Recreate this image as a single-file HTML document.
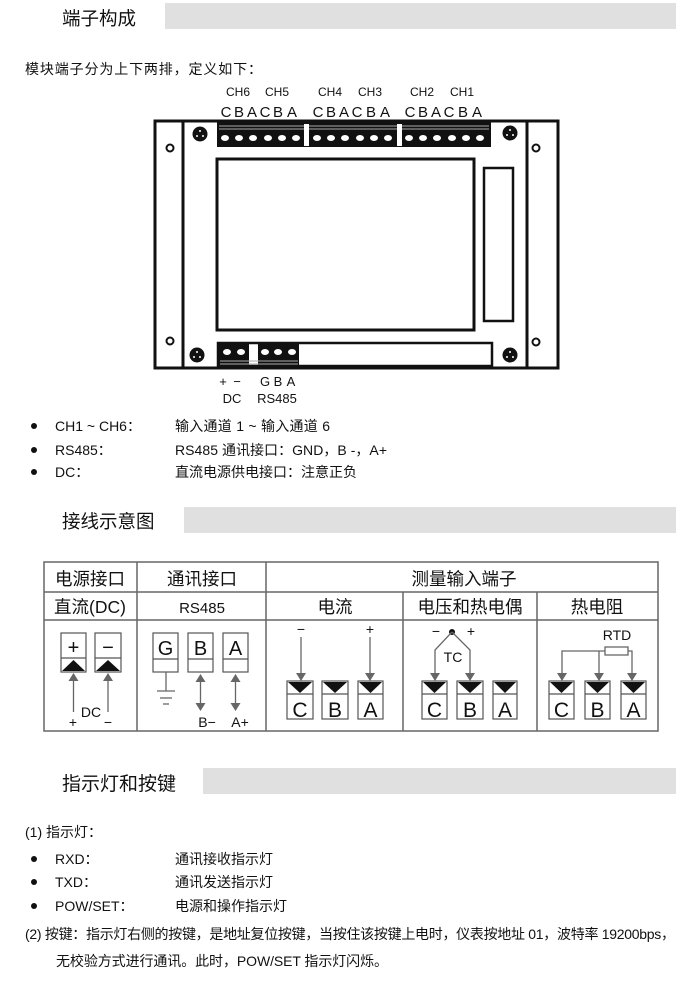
<!DOCTYPE html>
<html><head><meta charset="utf-8"><style>
html,body{margin:0;padding:0;background:#fff;}
svg{display:block;}
text{font-family:"Liberation Sans","Noto Sans CJK SC",sans-serif;fill:#111;}
</style></head><body>
<svg width="700" height="1003" viewBox="0 0 700 1003" xmlns="http://www.w3.org/2000/svg">
<defs>
<marker id="ah" markerWidth="8" markerHeight="10" refX="7" refY="5" orient="auto" markerUnits="userSpaceOnUse"><path d="M0,0 L8,5 L0,10 z" fill="#666"/></marker>
<marker id="as" markerWidth="8" markerHeight="10" refX="1" refY="5" orient="auto" markerUnits="userSpaceOnUse"><path d="M8,0 L0,5 L8,10 z" fill="#666"/></marker>
</defs>

<text x="62" y="25" font-size="18.5">端子构成</text>
<rect x="165" y="3" width="511" height="26" fill="#e0e0e0"/>
<text x="25" y="74" font-size="14" textLength="237">模块端子分为上下两排，定义如下：</text>

<g font-size="12" text-anchor="middle">
<text x="238" y="96">CH6</text><text x="277" y="96">CH5</text><text x="330" y="96">CH4</text><text x="370" y="96">CH3</text><text x="422" y="96">CH2</text><text x="462" y="96">CH1</text>
</g>
<g font-size="15" text-anchor="middle">
<text x="226" y="117">C</text><text x="239" y="117">B</text><text x="252" y="117">A</text><text x="265" y="117">C</text><text x="278" y="117">B</text><text x="292" y="117">A</text>
<text x="318" y="117">C</text><text x="331" y="117">B</text><text x="344" y="117">A</text><text x="357" y="117">C</text><text x="371" y="117">B</text><text x="385" y="117">A</text>
<text x="410" y="117">C</text><text x="423" y="117">B</text><text x="436" y="117">A</text><text x="449" y="117">C</text><text x="463" y="117">B</text><text x="477" y="117">A</text>
</g>

<g fill="none" stroke="#111" stroke-width="3">
<rect x="155" y="121" width="403" height="247"/>
<line x1="183" y1="121" x2="183" y2="368"/>
<line x1="527" y1="121" x2="527" y2="368"/>
<rect x="217" y="159" width="257" height="171"/>
<rect x="484" y="168" width="29" height="153" stroke-width="2.5"/>
<rect x="218" y="343" width="274" height="23" stroke-width="2.5"/>
</g>
<g fill="none" stroke="#111" stroke-width="2">
<circle cx="170" cy="148" r="3.5"/><circle cx="170" cy="341" r="3.5"/>
<circle cx="536" cy="148" r="3.5"/><circle cx="536" cy="342" r="3.5"/>
</g>
<g>
<circle cx="200" cy="134" r="7.5" fill="#111"/><circle cx="510" cy="133" r="7.5" fill="#111"/>
<circle cx="197" cy="355" r="7.5" fill="#111"/><circle cx="510" cy="355" r="7.5" fill="#111"/>
<g fill="#fff"><circle cx="200" cy="131" r="1"/><circle cx="197" cy="136" r="1"/><circle cx="203" cy="136" r="1"/>
<circle cx="510" cy="130" r="1"/><circle cx="507" cy="135" r="1"/><circle cx="513" cy="135" r="1"/>
<circle cx="197" cy="352" r="1"/><circle cx="194" cy="357" r="1"/><circle cx="200" cy="357" r="1"/>
<circle cx="510" cy="352" r="1"/><circle cx="507" cy="357" r="1"/><circle cx="513" cy="357" r="1"/></g>
</g>
<rect x="217" y="122" width="274" height="25" fill="#111"/>
<g stroke="#aaa" stroke-width="1">
<line x1="219" y1="126" x2="489" y2="126"/><line x1="219" y1="129" x2="489" y2="129"/>
</g>
<rect x="304" y="124" width="5" height="22" fill="#fff"/>
<rect x="397" y="124" width="5" height="22" fill="#fff"/>
<g fill="#fff">
<ellipse cx="225" cy="138" rx="4" ry="3"/><ellipse cx="239" cy="138" rx="4" ry="3"/><ellipse cx="253" cy="138" rx="4" ry="3"/><ellipse cx="268" cy="138" rx="4" ry="3"/><ellipse cx="282" cy="138" rx="4" ry="3"/><ellipse cx="296" cy="138" rx="4" ry="3"/>
<ellipse cx="317" cy="138" rx="4" ry="3"/><ellipse cx="331" cy="138" rx="4" ry="3"/><ellipse cx="345" cy="138" rx="4" ry="3"/><ellipse cx="360" cy="138" rx="4" ry="3"/><ellipse cx="374" cy="138" rx="4" ry="3"/><ellipse cx="388" cy="138" rx="4" ry="3"/>
<ellipse cx="409" cy="138" rx="4" ry="3"/><ellipse cx="423" cy="138" rx="4" ry="3"/><ellipse cx="437" cy="138" rx="4" ry="3"/><ellipse cx="452" cy="138" rx="4" ry="3"/><ellipse cx="466" cy="138" rx="4" ry="3"/><ellipse cx="480" cy="138" rx="4" ry="3"/>
</g>
<rect x="219" y="344" width="30" height="22" fill="#111"/>
<rect x="258" y="344" width="41" height="22" fill="#111"/>
<g stroke="#aaa"><line x1="220" y1="361" x2="298" y2="361"/><line x1="220" y1="364" x2="298" y2="364"/></g>
<g fill="#fff">
<ellipse cx="227" cy="352" rx="4" ry="3"/><ellipse cx="241" cy="352" rx="4" ry="3"/>
<ellipse cx="265" cy="352" rx="4" ry="3"/><ellipse cx="278" cy="352" rx="4" ry="3"/><ellipse cx="292" cy="352" rx="4" ry="3"/>
</g>
<g font-size="13" text-anchor="middle">
<text x="223" y="386">+</text><text x="237" y="386">−</text>
<text x="265" y="386">G</text><text x="278" y="386">B</text><text x="291" y="386">A</text>
<text x="232" y="403">DC</text><text x="277" y="403">RS485</text>
</g>

<g font-size="14">
<circle cx="34" cy="426" r="3" fill="#111"/><text x="55" y="431">CH1 ~ CH6：</text><text x="175" y="431" textLength="155">输入通道 1 ~ 输入通道 6</text>
<circle cx="34" cy="450" r="3" fill="#111"/><text x="55" y="455">RS485：</text><text x="175" y="455" textLength="212">RS485 通讯接口：GND，B -，A+</text>
<circle cx="34" cy="472" r="3" fill="#111"/><text x="55" y="477">DC：</text><text x="175" y="477" textLength="182">直流电源供电接口：注意正负</text>
</g>

<text x="62" y="528" font-size="18.5">接线示意图</text>
<rect x="184" y="507" width="492" height="26" fill="#e0e0e0"/>

<g fill="none" stroke="#666" stroke-width="1.5">
<rect x="44" y="562" width="614" height="169"/>
<line x1="44" y1="592" x2="658" y2="592"/>
<line x1="44" y1="620" x2="658" y2="620"/>
<line x1="137" y1="562" x2="137" y2="731"/>
<line x1="266" y1="562" x2="266" y2="731"/>
<line x1="403" y1="592" x2="403" y2="731"/>
<line x1="537" y1="592" x2="537" y2="731"/>
</g>
<g font-size="17.5" text-anchor="middle">
<text x="90" y="585">电源接口</text><text x="202" y="585">通讯接口</text><text x="464" y="585">测量输入端子</text>
<text x="90" y="613">直流(DC)</text><text x="202" y="613" font-size="15">RS485</text><text x="335" y="613">电流</text><text x="470" y="613">电压和热电偶</text><text x="597" y="613">热电阻</text>
</g>

<g fill="#fff" stroke="#555" stroke-width="1.2">
<rect x="61" y="633" width="25" height="39"/><line x1="61" y1="658" x2="86" y2="658"/>
<rect x="95" y="633" width="26" height="39"/><line x1="95" y1="658" x2="121" y2="658"/>
</g>
<path d="M62,671 L73.5,660 L85,671 z" fill="#111"/>
<path d="M96,671 L108,660 L120,671 z" fill="#111"/>
<g font-size="20" text-anchor="middle"><text x="73.5" y="654">+</text><text x="108" y="654">−</text></g>
<g stroke="#666" stroke-width="1.3">
<line x1="73.5" y1="712" x2="73.5" y2="674" marker-end="url(#ah)"/>
<line x1="108" y1="712" x2="108" y2="674" marker-end="url(#ah)"/>
</g>
<g font-size="14" text-anchor="middle"><text x="73" y="727">+</text><text x="91" y="717">DC</text><text x="108" y="727">−</text></g>

<g fill="#fff" stroke="#555" stroke-width="1.2">
<rect x="153" y="633" width="25" height="39"/><line x1="153" y1="659" x2="178" y2="659"/>
<rect x="188" y="633" width="25" height="39"/><line x1="188" y1="659" x2="213" y2="659"/>
<rect x="223" y="633" width="25" height="39"/><line x1="223" y1="659" x2="248" y2="659"/>
</g>
<g font-size="20" text-anchor="middle"><text x="165.5" y="655">G</text><text x="200.5" y="655">B</text><text x="235.5" y="655">A</text></g>
<g stroke="#666" stroke-width="1.3">
<line x1="166" y1="672" x2="166" y2="691"/>
<line x1="157" y1="691" x2="175" y2="691"/>
<line x1="160" y1="698" x2="172" y2="698"/>
<line x1="163" y1="704" x2="169" y2="704"/>
<line x1="200.5" y1="675" x2="200.5" y2="710" marker-start="url(#as)" marker-end="url(#ah)"/>
<line x1="235.5" y1="675" x2="235.5" y2="710" marker-start="url(#as)" marker-end="url(#ah)"/>
</g>
<g font-size="14" text-anchor="middle"><text x="207" y="727">B−</text><text x="240" y="727">A+</text></g>

<g font-size="14" text-anchor="middle"><text x="301" y="634">−</text><text x="370" y="634">+</text></g>
<g stroke="#666" stroke-width="1.3">
<line x1="301" y1="637" x2="301" y2="680" marker-end="url(#ah)"/>
<line x1="370" y1="637" x2="370" y2="680" marker-end="url(#ah)"/>
</g>

<g font-size="14" text-anchor="middle"><text x="436" y="636">−</text><text x="471" y="636">+</text><text x="453" y="662">TC</text><text x="617" y="640">RTD</text></g>
<circle cx="452" cy="632" r="3" fill="#111"/>
<g fill="none" stroke="#666" stroke-width="1.3">
<polyline points="452,632 435,650 435,680" marker-end="url(#ah)"/>
<polyline points="452,632 470,650 470,680" marker-end="url(#ah)"/>
</g>

<g fill="none" stroke="#666" stroke-width="1.3">
<rect x="605" y="647" width="23" height="8" fill="#fff"/>
<polyline points="605,651 562,651 562,680" marker-end="url(#ah)"/>
<polyline points="628,651 632,651 632,680" marker-end="url(#ah)"/>
<line x1="599" y1="651" x2="599" y2="680" marker-end="url(#ah)"/>
</g>

<g fill="#fff" stroke="#555" stroke-width="1.2">
<rect x="287" y="681" width="26" height="38"/><line x1="287" y1="694" x2="313" y2="694"/>
<rect x="322" y="681" width="26" height="38"/><line x1="322" y1="694" x2="348" y2="694"/>
<rect x="358" y="681" width="25" height="38"/><line x1="358" y1="694" x2="383" y2="694"/>
<rect x="422" y="681" width="25" height="38"/><line x1="422" y1="694" x2="447" y2="694"/>
<rect x="457" y="681" width="26" height="38"/><line x1="457" y1="694" x2="483" y2="694"/>
<rect x="493" y="681" width="24" height="38"/><line x1="493" y1="694" x2="517" y2="694"/>
<rect x="549" y="681" width="25" height="38"/><line x1="549" y1="694" x2="574" y2="694"/>
<rect x="585" y="681" width="25" height="38"/><line x1="585" y1="694" x2="610" y2="694"/>
<rect x="621" y="681" width="25" height="38"/><line x1="621" y1="694" x2="646" y2="694"/>
</g>
<g fill="#111">
<path d="M288,682 L312,682 L300,693 z"/><path d="M323,682 L347,682 L335,693 z"/><path d="M359,682 L382,682 L370.5,693 z"/>
<path d="M423,682 L446,682 L434.5,693 z"/><path d="M458,682 L482,682 L470,693 z"/><path d="M494,682 L516,682 L505,693 z"/>
<path d="M550,682 L573,682 L561.5,693 z"/><path d="M586,682 L609,682 L597.5,693 z"/><path d="M622,682 L645,682 L633.5,693 z"/>
</g>
<g font-size="21" text-anchor="middle">
<text x="300" y="717">C</text><text x="335" y="717">B</text><text x="370.5" y="717">A</text>
<text x="434.5" y="717">C</text><text x="470" y="717">B</text><text x="505" y="717">A</text>
<text x="561.5" y="717">C</text><text x="597.5" y="717">B</text><text x="633.5" y="717">A</text>
</g>

<text x="62" y="790" font-size="19">指示灯和按键</text>
<rect x="203" y="768" width="473" height="26" fill="#e0e0e0"/>

<g font-size="14">
<text x="25" y="837">(1)  指示灯：</text>
<circle cx="34" cy="859" r="3" fill="#111"/><text x="55" y="864">RXD：</text><text x="175" y="864" textLength="98">通讯接收指示灯</text>
<circle cx="34" cy="882" r="3" fill="#111"/><text x="55" y="887">TXD：</text><text x="175" y="887" textLength="98">通讯发送指示灯</text>
<circle cx="34" cy="906" r="3" fill="#111"/><text x="55" y="911">POW/SET：</text><text x="175" y="911" textLength="112">电源和操作指示灯</text>
<text x="25" y="939" textLength="650">(2)  按键：指示灯右侧的按键，是地址复位按键，当按住该按键上电时，仪表按地址 01，波特率 19200bps，</text>
<text x="56" y="966" textLength="332">无校验方式进行通讯。此时，POW/SET 指示灯闪烁。</text>
</g>
</svg>
</body></html>
